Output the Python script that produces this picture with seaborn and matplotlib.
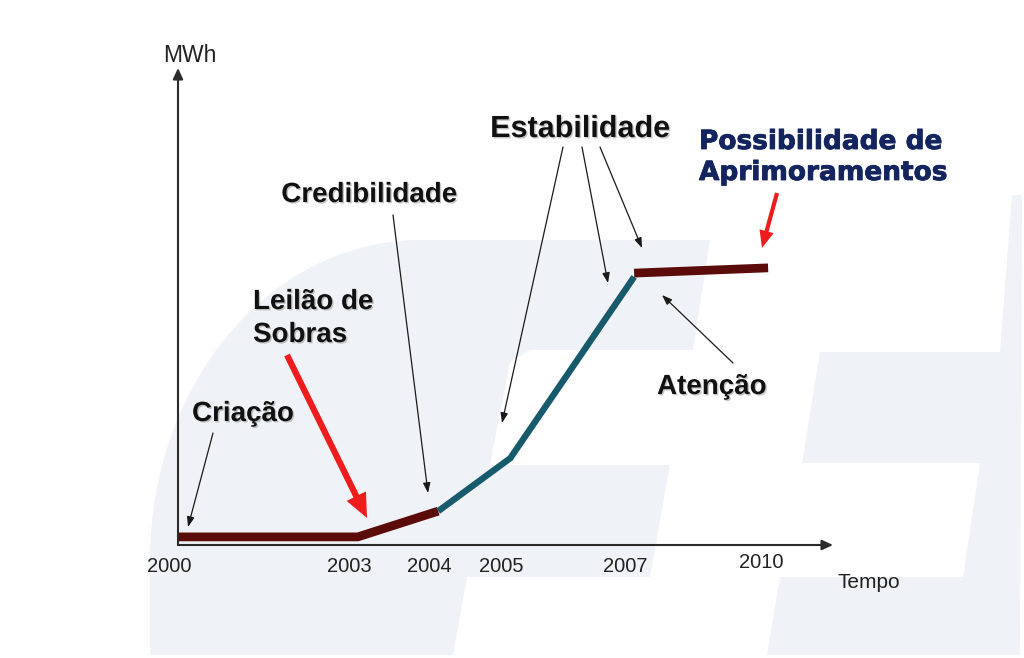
import numpy as np
import pandas as pd
import matplotlib
matplotlib.use("Agg")
import matplotlib.pyplot as plt
import matplotlib.patheffects as pe
import matplotlib.transforms as mtransforms
from matplotlib.patches import Polygon
import seaborn as sns

# ---------------- data ----------------
year_labels = ["2000", "2003", "2004", "2005", "2007", "2010"]
year_pos = [0.0, 3.02, 4.37, 5.58, 7.66, 9.91]          # schematic time axis

fase_inicio_x = [0.0, 3.02, 4.37]
fase_inicio_y = [1.7, 1.7, 7.1]
fase_cresc_x = [4.37, 5.58, 7.66]
fase_cresc_y = [7.1, 18.2, 56.2]
fase_matur_x = [7.66, 9.91]
fase_matur_y = [57.0, 58.1]

fases = ["Início", "Crescimento", "Maturidade"]
palette = {"Início": "#5c0b0b", "Crescimento": "#175a6c", "Maturidade": "#5c0b0b"}
sizes = {"Início": 6.3, "Crescimento": 4.6, "Maturidade": 6.3}

df = pd.DataFrame({
    "x": fase_inicio_x + fase_cresc_x + fase_matur_x,
    "y": fase_inicio_y + fase_cresc_y + fase_matur_y,
    "fase": [fases[0]] * 3 + [fases[1]] * 3 + [fases[2]] * 2,
})

# ---------------- figure ----------------
sns.set_theme(style="white")
plt.rcParams["font.family"] = ["Liberation Sans", "DejaVu Sans"]

W, H = 1024, 658
fig = plt.figure(figsize=(W / 100, H / 100), dpi=100)
fig.patch.set_facecolor("white")


def fpx(x, y):
    return (x / W, 1 - y / H)


# faint background watermark
wm = "#eff2f6"
theta = np.linspace(np.pi, np.pi / 2, 50)
cx, cy, a, b = 420, 560, 270, 320
arc = [(cx + a * np.cos(t), cy - b * np.sin(t)) for t in theta]
c_shape = arc + [(710, 240), (693, 350), (530, 350), (510, 362), (490, 465),
                 (670, 465), (650, 577), (467, 577), (453, 655), (150, 655)]
e_shape = [(1012, 195), (1022, 195), (1020, 655), (767, 655), (780, 577),
           (963, 577), (980, 463), (802, 463), (820, 352), (1000, 352)]
for shp in (c_shape, e_shape):
    poly = Polygon([fpx(*p) for p in shp], closed=True, transform=fig.transFigure,
                   facecolor=wm, edgecolor="none", zorder=-5)
    fig.add_artist(poly)

ax = fig.add_axes([178 / W, 1 - 545 / H, 655 / W, 477 / H])
ax.patch.set_alpha(0)

sns.lineplot(data=df, x="x", y="y", hue="fase", size="fase", palette=palette,
             sizes=sizes, sort=False, estimator=None, legend=False, ax=ax)
for ln in ax.lines:
    ln.set_solid_capstyle("butt")
    ln.set_solid_joinstyle("miter")

ax.set_xlim(0, 11)
ax.set_ylim(0, 100)
ax.set_xlabel("")
ax.set_ylabel("")
sns.despine(ax=ax, left=True, bottom=True, top=True, right=True)
ax.set_yticks([])
ax.set_xticks(year_pos)
ax.set_xticklabels(year_labels)
ax.tick_params(axis="x", length=0, pad=8.5, labelsize=14.5, labelcolor="#222222")
shift = mtransforms.ScaledTranslation(-9 / 100, 0, fig.dpi_scale_trans)
for lab in ax.get_xticklabels():
    tr = lab.get_transform() + shift
    if lab.get_text() == "2010":
        tr = tr + mtransforms.ScaledTranslation(2 / 100, 4 / 100, fig.dpi_scale_trans)
    lab.set_transform(tr)

# axis arrows
axis_arrow = dict(arrowstyle="-|>,head_length=0.65,head_width=0.3", mutation_scale=10,
                  lw=1.5, color="#2b2b2b", shrinkA=0, shrinkB=0)
ax.annotate("", xy=(1, 0), xytext=(0, 0), xycoords="axes fraction", arrowprops=axis_arrow)
ax.annotate("", xy=(0, 1), xytext=(0, 0), xycoords="axes fraction", arrowprops=axis_arrow)


def P(x, y):
    return (x, H - y)


thin = dict(arrowstyle="-|>,head_length=0.6,head_width=0.22", mutation_scale=10,
            lw=0.9, color="#1a1a1a", shrinkA=0, shrinkB=0)
big_red = dict(arrowstyle="simple,head_length=1.75,head_width=1.55,tail_width=0.45",
               mutation_scale=10, color="#ee1c1c", lw=0, shrinkA=0, shrinkB=0)
small_red = dict(arrowstyle="simple,head_length=1.25,head_width=1.05,tail_width=0.3",
                 mutation_scale=10, color="#ee1c1c", lw=0, shrinkA=0, shrinkB=0)

arrows = [
    ((213, 433), (188, 527), thin),     # Criação
    ((287, 355), (367, 518), big_red),  # Leilão de Sobras
    ((393, 215), (428, 493), thin),     # Credibilidade
    ((563, 147), (502, 423), thin),     # Estabilidade 1
    ((582, 147), (608, 283), thin),     # Estabilidade 2
    ((600, 147), (642, 248), thin),     # Estabilidade 3
    ((777, 193), (762, 248), small_red),  # Possibilidade
    ((733, 363), (662, 295), thin),     # Atenção
]
for tail, tip, props in arrows:
    ax.annotate("", xy=P(*tip), xytext=P(*tail), xycoords="figure pixels",
                textcoords="figure pixels", arrowprops=props)

shadow = [pe.withSimplePatchShadow(offset=(1.0, -1.0), shadow_rgbFace="0.55", alpha=0.5)]


def label(x, y, s, size, ha="left", bold=True, color="#111111", family=None, fx=True):
    kw = dict(ha=ha, va="baseline", fontsize=size, color=color,
              fontweight="bold" if bold else "normal")
    if family:
        kw["family"] = family
    t = fig.text(x / W, 1 - y / H, s, **kw)
    if fx:
        t.set_path_effects(shadow)
    return t


label(163, 62, "MWh", 16.5, bold=False, color="#222222", fx=False)
label(192, 421, "Criação", 20)
label(253, 309, "Leilão de", 20)
label(253, 342, "Sobras", 20)
label(369, 202, "Credibilidade", 20, ha="center")
label(580, 137, "Estabilidade", 22, ha="center")
label(657, 394, "Atenção", 20)
navy_fx = [pe.withStroke(linewidth=0.6, foreground="#14245e")]
t1 = label(699, 149, "Possibilidade de", 19, color="#14245e", family=["DejaVu Sans"], fx=False)
t2 = label(699, 180, "Aprimoramentos", 19, color="#14245e", family=["DejaVu Sans"], fx=False)
t1.set_path_effects(navy_fx)
t2.set_path_effects(navy_fx)
label(837, 588, "Tempo", 15, bold=False, color="#222222", fx=False)

fig.savefig("out.png", dpi=100, facecolor="white")
